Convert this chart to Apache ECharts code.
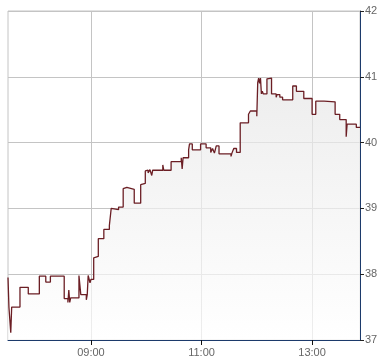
<!DOCTYPE html>
<html>
<head>
<meta charset="utf-8">
<script src="https://cdn.jsdelivr.net/npm/echarts@6/dist/echarts.min.js"></script>
<style>
html,body{margin:0;padding:0;background:#fff;}
#chart{width:390px;height:364px;}
</style>
</head>
<body>
<div id="chart"></div>
<script>
// Time of each price change (HH:MM) and the price from then on
var times = [
  "07:30","07:31","07:33","07:34","07:43","07:52","08:04","08:11","08:16","08:31",
  "08:35","08:36","08:37","08:38","08:47","08:49","08:55","08:56","08:57","08:59",
  "09:00","09:03","09:05","09:08","09:14","09:20","09:22","09:24","09:30","09:35",
  "09:37","09:39","09:47","09:54","09:55","09:59","10:00","10:02","10:04","10:06",
  "10:07","10:18","10:19","10:27","10:38","10:39","10:40","10:46","10:47","10:50",
  "10:59","11:05","11:10","11:12","11:14","11:16","11:19","11:32","11:33","11:35",
  "11:38","11:42","11:51","11:53","12:00","12:01","12:02","12:03","12:04","12:05",
  "12:06","12:07","12:11","12:12","12:16","12:21","12:22","12:25","12:28","12:39",
  "12:43","12:51","13:00","13:04","13:13","13:25","13:30","13:37","13:38","13:48",
  "13:52"
];
var prices = [
  37.95,37.50,37.11,37.50,37.80,37.70,37.97,37.88,37.97,37.63,
  37.57,37.76,37.57,37.64,37.98,37.69,37.61,37.69,37.98,37.87,
  37.92,38.25,38.27,38.54,38.68,38.74,39.00,38.98,39.02,39.30,
  39.32,39.29,39.08,39.36,39.38,39.57,39.58,39.54,39.59,39.50,
  39.58,39.66,39.58,39.71,39.77,39.60,39.77,39.89,39.98,39.89,
  39.98,39.92,39.85,39.91,39.84,39.95,39.83,39.79,39.84,39.91,
  39.85,40.30,40.43,40.48,40.40,40.91,40.98,40.90,40.98,40.74,
  40.78,40.74,40.97,40.98,40.74,40.69,40.73,40.69,40.65,40.86,
  40.78,40.67,40.43,40.63,40.62,40.43,40.35,40.09,40.28,40.23,
  40.23
];
var xTickLabels = ["09:00","11:00","13:00"];
var xStart = "07:30", xEnd = "13:52";
var yTicks = [37,38,39,40,41,42];

function toMin(s){ var p = s.split(":"); return (+p[0])*60 + (+p[1]); }
function fmt(m){ var h = Math.floor(m/60), mm = Math.round(m%60); return (h<10?"0":"")+h+":"+(mm<10?"0":"")+mm; }

var data = times.map(function(t,i){ return [toMin(t), prices[i]]; });
var xTickVals = xTickLabels.map(toMin);

var chart = echarts.init(document.getElementById('chart'), null, {renderer:'canvas'});
chart.setOption({
  animation:false,
  backgroundColor:'#ffffff',
  grid:{left:8, right:30, top:11, bottom:24, show:true, borderColor:'#c4c4c4', borderWidth:1, backgroundColor:'transparent'},
  xAxis:{
    type:'value', min:toMin(xStart), max:toMin(xEnd),
    axisLine:{show:true, lineStyle:{color:'#1c3a6b', width:1}},
    axisTick:{show:true, customValues:xTickVals, length:5, lineStyle:{color:'#111'}},
    axisLabel:{customValues:xTickVals, formatter:function(v){return fmt(v);}, color:'#666', fontSize:11, fontFamily:'Liberation Sans, Arial, sans-serif', margin:7},
    splitLine:{show:true, lineStyle:{color:'#c4c4c4', width:1}}
  },
  yAxis:{
    type:'value', position:'right', min:yTicks[0], max:yTicks[yTicks.length-1], interval:1,
    axisLine:{show:true, lineStyle:{color:'#1c3a6b', width:1}},
    axisTick:{show:true, length:4, lineStyle:{color:'#222'}},
    axisLabel:{color:'#666', fontSize:11, fontFamily:'Liberation Sans, Arial, sans-serif', margin:5},
    splitLine:{show:true, lineStyle:{color:'#c4c4c4', width:1}}
  },
  series:[{
    type:'line', step:'end', data:data, symbol:'none',
    lineStyle:{color:'#6b1e24', width:1.3},
    areaStyle:{origin:'start', color:new echarts.graphic.LinearGradient(0,0,0,1,[{offset:0,color:'#e6e6e6'},{offset:1,color:'#ffffff'}])}
  }]
});
</script>
</body>
</html>
